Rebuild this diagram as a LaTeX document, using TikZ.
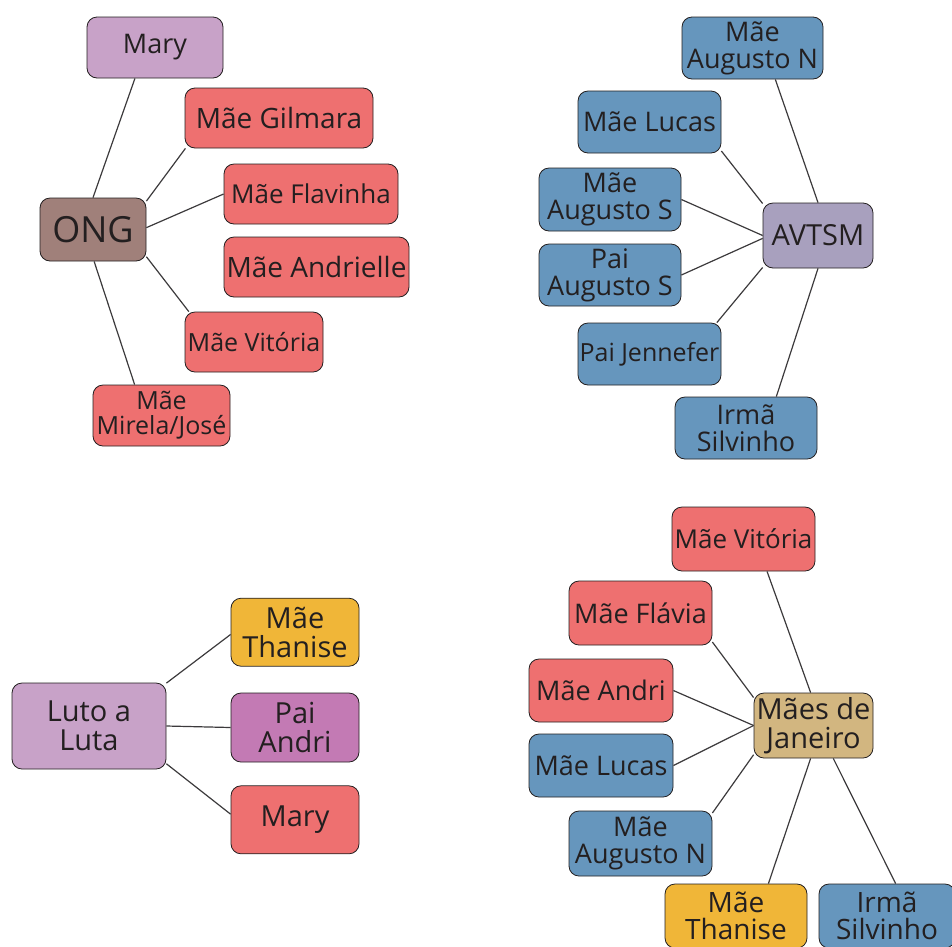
\documentclass[tikz,border=0pt]{standalone}
\usepackage{fontspec}
\setmainfont{Open Sans}
\usetikzlibrary{positioning}
\definecolor{inkdark}{RGB}{35,31,32}
\definecolor{linegray}{RGB}{60,58,60}
\definecolor{boxred}{RGB}{238,112,112}
\definecolor{boxblue}{RGB}{102,150,189}
\definecolor{boxlilac}{RGB}{200,162,200}
\definecolor{boxbrown}{RGB}{160,128,122}
\definecolor{boxgrey}{RGB}{168,160,190}
\definecolor{boxorange}{RGB}{240,182,56}
\definecolor{boxpink}{RGB}{195,122,180}
\definecolor{boxtan}{RGB}{210,182,128}

\begin{document}
\begin{tikzpicture}[x=1pt,y=-1pt,
  every node/.style={font=\fontsize{26}{26}\selectfont,text=inkdark},
  fs/.style={font=\fontsize{#1}{#1}\selectfont},
  box/.style={draw=inkdark,line width=0.8pt,rounded corners=10pt,inner sep=0pt,align=center},
  link/.style={draw=linegray,line width=1.2pt}]
  \useasboundingbox (0,0) rectangle (952,946);

  % ONG
  \node[box,fill=boxbrown,minimum width=106pt,minimum height=63pt,fs=36] (ong) at (93,229.5) {ONG};
  \node[box,fill=boxlilac,minimum width=136pt,minimum height=61pt,fs=27] (mary1) at (155,47.5) {Mary};
  \node[box,fill=boxred,minimum width=188pt,minimum height=60pt,fs=28] (gilmara) at (279,118) {Mãe Gilmara};
  \node[box,fill=boxred,minimum width=174pt,minimum height=60pt] (flavinha) at (311,194) {Mãe Flavinha};
  \node[box,fill=boxred,minimum width=185pt,minimum height=60pt,fs=28] (andrielle) at (316.5,267) {Mãe Andrielle};
  \node[box,fill=boxred,minimum width=138pt,minimum height=60pt,fs=25] (vitoria1) at (254,342) {Mãe Vitória};
  \node[box,fill=boxred,minimum width=137pt,minimum height=61pt,fs=25] (mirela) at (161.5,415.5) {Mãe\\Mirela/José};
  \draw[link] (ong.90) -- (mary1.-123);
  \draw[link] (ong.28) -- (gilmara.198);
  \draw[link] (ong.2) -- (flavinha.180);
  \draw[link] (ong.-27) -- (vitoria1.155);
  \draw[link] (ong.-88) -- (mirela.131);

  % AVTSM
  \node[box,fill=boxgrey,minimum width=110pt,minimum height=65pt,fs=29] (avtsm) at (818,235.5) {AVTSM};
  \node[box,fill=boxblue,minimum width=141pt,minimum height=62pt,fs=27] (augn1) at (752.5,48) {Mãe\\Augusto N};
  \node[box,fill=boxblue,minimum width=143pt,minimum height=62pt,fs=27] (lucas1) at (649.5,122) {Mãe Lucas};
  \node[box,fill=boxblue,minimum width=142pt,minimum height=63pt,fs=27] (augs) at (610,199.5) {Mãe\\Augusto S};
  \node[box,fill=boxblue,minimum width=142pt,minimum height=62pt,fs=27] (paiaugs) at (610,275) {Pai\\Augusto S};
  \node[box,fill=boxblue,minimum width=143pt,minimum height=62pt,fs=25] (jennefer) at (649.5,354) {Pai Jennefer};
  \node[box,fill=boxblue,minimum width=142pt,minimum height=62pt,fs=27] (silvinho1) at (746,428) {Irmã\\Silvinho};
  \draw[link] (avtsm.90) -- (augn1.-54);
  \draw[link] (avtsm.150) -- (lucas1.-22);
  \draw[link] (avtsm.180) -- (augs.0);
  \draw[link] (avtsm.183) -- (paiaugs.0);
  \draw[link] (avtsm.-150) -- (jennefer.25);
  \draw[link] (avtsm.-90) -- (silvinho1.46);

  % Luto a Luta
  \node[box,fill=boxlilac,minimum width=154pt,minimum height=86pt,fs=29] (luto) at (89,726) {Luto a\\Luta};
  \node[box,fill=boxpink,minimum width=128pt,minimum height=69pt,fs=29] (paiandri) at (295,727.5) {Pai\\Andri};
  \node[box,fill=boxorange,minimum width=128pt,minimum height=68pt,fs=29,above=26pt of paiandri] (thanise1) {Mãe\\Thanise};
  \node[box,fill=boxred,minimum width=128pt,minimum height=68pt,fs=29,below=23pt of paiandri] (mary2) {Mary};
  \draw[link] (luto.29) -- (thanise1.182);
  \draw[link] (luto.0) -- (paiandri.180);
  \draw[link] (luto.-26) -- (mary2.175);

  % Maes de Janeiro
  \node[box,fill=boxtan,minimum width=119pt,minimum height=65pt,fs=29] (janeiro) at (813.5,725.5) {Mães de\\Janeiro};
  \node[box,fill=boxred,minimum width=143pt,minimum height=64pt] (vitoria2) at (743.5,539) {Mãe Vitória};
  \node[box,fill=boxred,minimum width=143pt,minimum height=64pt,fs=27] (flavia) at (640.5,613) {Mãe Flávia};
  \node[box,fill=boxred,minimum width=144pt,minimum height=63pt,fs=27] (andri) at (601,690.5) {Mãe Andri};
  \node[box,fill=boxblue,minimum width=144pt,minimum height=63pt,fs=27] (lucas2) at (601,765.5) {Mãe Lucas};
  \node[box,fill=boxblue,minimum width=143pt,minimum height=65pt,fs=27] (augn2) at (640.5,843.5) {Mãe\\Augusto N};
  \node[box,fill=boxorange,minimum width=142pt,minimum height=64pt,font=\fontsize{28}{27}\selectfont] (thanise2) at (736,916) {Mãe\\Thanise};
  \node[box,fill=boxblue,minimum width=136pt,minimum height=64pt,font=\fontsize{28}{27}\selectfont] (silvinho2) at (887,916) {Irmã\\Silvinho};
  \draw[link] (janeiro.95) -- (vitoria2.-54);
  \draw[link] (janeiro.155) -- (flavia.-22);
  \draw[link] (janeiro.180) -- (andri.0);
  \draw[link] (janeiro.180) -- (lucas2.0);
  \draw[link] (janeiro.-154) -- (augn2.23);
  \draw[link] (janeiro.-95) -- (thanise2.45);
  \draw[link] (janeiro.-59) -- (silvinho2.75);
\end{tikzpicture}
\end{document}
